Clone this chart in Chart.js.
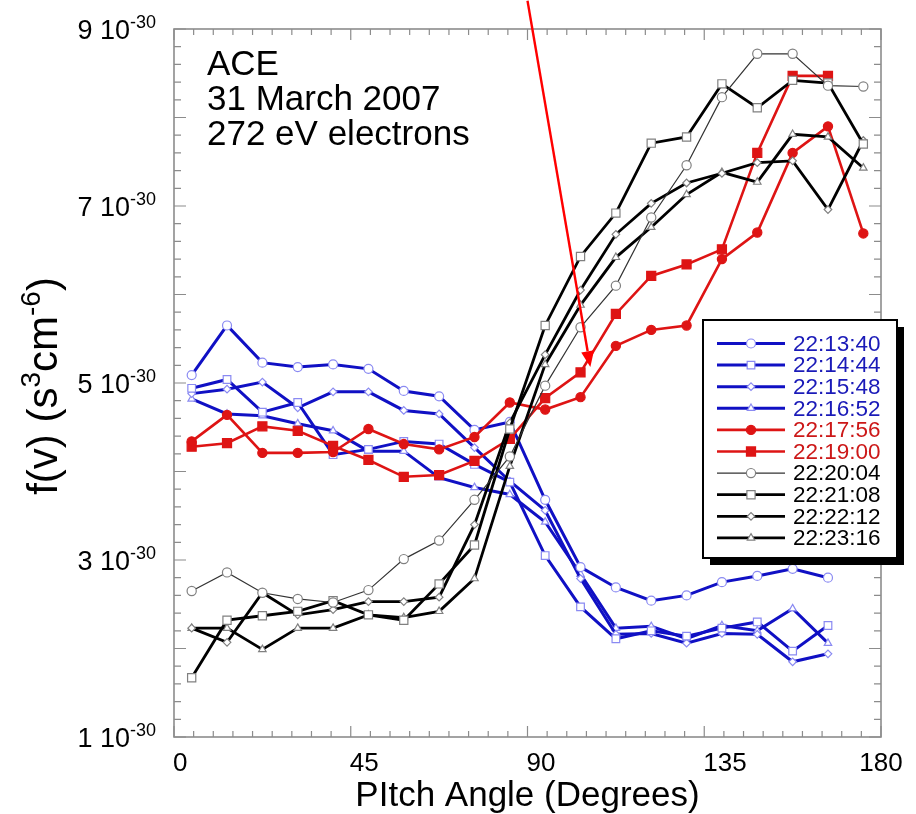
<!DOCTYPE html>
<html>
<head>
<meta charset="utf-8">
<title>ACE 272 eV pitch angle distributions</title>
<script src="https://cdn.jsdelivr.net/npm/chart.js@4.4.0/dist/chart.umd.min.js"></script>
<style>
  html, body { margin: 0; padding: 0; background: #fff; }
  #wrap { width: 916px; height: 814px; }
</style>
</head>
<body>
<div id="wrap"><canvas id="pitchChart" width="916" height="814"></canvas></div>
<script>
// pitch angle bin centres (degrees)
const angles = [4.5, 13.5, 22.5, 31.5, 40.5, 49.5, 58.5, 67.5, 76.5, 85.5,
                94.5, 103.5, 112.5, 121.5, 130.5, 139.5, 148.5, 157.5, 166.5, 175.5];

const times = ['22:13:40', '22:14:44', '22:15:48', '22:16:52', '22:17:56',
               '22:19:00', '22:20:04', '22:21:08', '22:22:12', '22:23:16'];

// f(v) in units of 1e-30 s^3 cm^-6
const fv_221340 = [5.09, 5.65, 5.23, 5.18, 5.21, 5.16, 4.91, 4.85, 4.47, 4.56, 3.68, 2.92, 2.69, 2.54, 2.60, 2.75, 2.82, 2.90, 2.80];
const fv_221444 = [4.94, 5.04, 4.67, 4.78, 4.19, 4.25, 4.34, 4.31, 4.08, 3.88, 3.05, 2.47, 2.11, 2.20, 2.14, 2.23, 2.30, 1.97, 2.26];
const fv_221548 = [4.88, 4.93, 5.01, 4.72, 4.90, 4.90, 4.69, 4.65, 4.27, 3.89, 3.56, 2.79, 2.16, 2.17, 2.06, 2.17, 2.16, 1.85, 1.94];
const fv_221652 = [4.82, 4.65, 4.63, 4.54, 4.46, 4.23, 4.23, 3.93, 3.82, 3.74, 3.43, 2.84, 2.23, 2.25, 2.11, 2.26, 2.20, 2.45, 2.06];
const fv_221756 = [4.34, 4.64, 4.21, 4.21, 4.22, 4.48, 4.31, 4.25, 4.39, 4.78, 4.70, 4.84, 5.42, 5.60, 5.65, 6.40, 6.70, 7.60, 7.90, 6.69];
const fv_221900 = [4.28, 4.32, 4.51, 4.46, 4.29, 4.13, 3.94, 3.96, 4.12, 4.37, 4.83, 5.12, 5.78, 6.21, 6.34, 6.51, 7.60, 8.47, 8.47];
const fv_222004 = [2.65, 2.86, 2.63, 2.56, 2.52, 2.66, 3.01, 3.22, 3.68, 4.17, 4.97, 5.63, 6.10, 6.87, 7.46, 8.23, 8.72, 8.72, 8.36, 8.35];
const fv_222108 = [1.67, 2.32, 2.37, 2.42, 2.54, 2.38, 2.32, 2.73, 3.17, 4.48, 5.65, 6.43, 6.92, 7.71, 7.78, 8.38, 8.11, 8.42, 8.39, 7.70];
const fv_222212 = [2.23, 2.07, 2.63, 2.38, 2.44, 2.53, 2.53, 2.58, 3.40, 4.55, 5.32, 6.05, 6.68, 7.03, 7.26, 7.37, 7.49, 7.51, 6.96, 7.74];
const fv_222316 = [2.23, 2.23, 1.99, 2.23, 2.23, 2.38, 2.35, 2.42, 2.79, 4.06, 5.21, 5.88, 6.42, 6.76, 7.13, 7.38, 7.27, 7.81, 7.78, 7.43];

const seriesValues = [fv_221340, fv_221444, fv_221548, fv_221652, fv_221756,
                      fv_221900, fv_222004, fv_222108, fv_222212, fv_222316];

const yTickValues = [1, 3, 5, 7, 9];
const xTickValues = [0, 45, 90, 135, 180];
const noteLines = ['ACE', '31 March 2007', '272 eV electrons'];
const arrowFrom = [90, 9.32];
const arrowTo = [106, 5.18];

// styling, kept apart from the data
const BLUE = '#1010c4', RED = '#de1414';
const styles = [
  { line: BLUE, width: 3, shape: 'circle', r: 4.5, edge: '#8a8af2', fill: '#fff', text: '#1a1ab8' },
  { line: BLUE, width: 3, shape: 'rect', r: 5.4, edge: '#8a8af2', fill: '#fff', text: '#1a1ab8' },
  { line: BLUE, width: 3, shape: 'rectRot', r: 3.8, edge: '#8a8af2', fill: '#fff', text: '#1a1ab8' },
  { line: BLUE, width: 3, shape: 'triangle', r: 4.3, edge: '#8a8af2', fill: '#fff', text: '#1a1ab8' },
  { line: RED, width: 2.6, shape: 'circle', r: 4.6, edge: RED, fill: RED, text: '#cc1818' },
  { line: RED, width: 2.6, shape: 'rect', r: 6.4, edge: RED, fill: RED, text: '#cc1818' },
  { line: '#333', width: 1.2, shape: 'circle', r: 4.6, edge: '#808080', fill: '#fff', text: '#000' },
  { line: '#000', width: 2.8, shape: 'rect', r: 5.8, edge: '#808080', fill: '#fff', text: '#000' },
  { line: '#000', width: 2.8, shape: 'rectRot', r: 3.8, edge: '#808080', fill: '#fff', text: '#000' },
  { line: '#000', width: 2.8, shape: 'triangle', r: 4.3, edge: '#808080', fill: '#fff', text: '#000' }
];

const FONT = '"Liberation Sans", Arial, Helvetica, sans-serif';

const datasets = seriesValues.map((vals, i) => {
  const s = styles[i];
  return {
    label: times[i],
    data: vals.map((v, k) => ({ x: angles[k], y: v })),
    borderColor: s.line,
    borderWidth: s.width,
    pointStyle: s.shape,
    pointRadius: s.r,
    pointBorderColor: s.edge,
    pointBackgroundColor: s.fill,
    pointBorderWidth: 1.2,
    tension: 0,
    fill: false,
    order: i < 4 ? 3 : (i < 6 ? 2 : 1)
  };
});

function drawMarker(ctx, shape, r, x, y, fill, edge) {
  ctx.beginPath();
  if (shape === 'circle') {
    ctx.arc(x, y, r, 0, Math.PI * 2);
  } else if (shape === 'rect') {
    const h = r * Math.SQRT1_2;
    ctx.rect(x - h, y - h, 2 * h, 2 * h);
  } else if (shape === 'rectRot') {
    ctx.moveTo(x - r, y); ctx.lineTo(x, y - r); ctx.lineTo(x + r, y); ctx.lineTo(x, y + r); ctx.closePath();
  } else {
    let a = 0;
    ctx.moveTo(x + Math.sin(a) * r, y - Math.cos(a) * r);
    a += 2 * Math.PI / 3;
    ctx.lineTo(x + Math.sin(a) * r, y - Math.cos(a) * r);
    a += 2 * Math.PI / 3;
    ctx.lineTo(x + Math.sin(a) * r, y - Math.cos(a) * r);
    ctx.closePath();
  }
  ctx.fillStyle = fill; ctx.fill();
  ctx.lineWidth = 1.2; ctx.strokeStyle = edge; ctx.stroke();
}

// box, inward ticks, labels, legend, annotation
const framePlugin = {
  id: 'frame',
  beforeDatasetsDraw(chart) {
    const { ctx, chartArea: a, scales: { x, y } } = chart;
    ctx.save();
    ctx.strokeStyle = '#8c8c8c';
    ctx.lineWidth = 1.6;
    ctx.strokeRect(a.left, a.top, a.right - a.left, a.bottom - a.top);
    ctx.lineWidth = 1.2;
    ctx.beginPath();
    for (let d = 0; d <= 180; d += 5) {
      const px = x.getPixelForValue(d);
      const len = d % 45 === 0 ? 11 : 6;
      ctx.moveTo(px, a.bottom); ctx.lineTo(px, a.bottom - len);
      ctx.moveTo(px, a.top); ctx.lineTo(px, a.top + len);
    }
    for (let i = 0; i <= 40; i++) {
      const py = y.getPixelForValue(1 + i * 0.2);
      const len = i % 5 === 0 ? 12 : 7;
      ctx.moveTo(a.left, py); ctx.lineTo(a.left + len, py);
      ctx.moveTo(a.right, py); ctx.lineTo(a.right - len, py);
    }
    ctx.stroke();
    ctx.restore();
  },
  afterDatasetsDraw(chart) {
    const { ctx, scales: { x, y } } = chart;
    // red arrow
    const x0 = x.getPixelForValue(arrowFrom[0]), y0 = y.getPixelForValue(arrowFrom[1]);
    const x1 = x.getPixelForValue(arrowTo[0]), y1 = y.getPixelForValue(arrowTo[1]);
    const ang = Math.atan2(y1 - y0, x1 - x0);
    const headLen = 16, headW = 6.5;
    const bx = x1 - Math.cos(ang) * headLen, by = y1 - Math.sin(ang) * headLen;
    ctx.save();
    ctx.strokeStyle = '#ff0000'; ctx.fillStyle = '#ff0000'; ctx.lineWidth = 2.4;
    ctx.beginPath(); ctx.moveTo(x0, y0); ctx.lineTo(bx, by); ctx.stroke();
    ctx.beginPath();
    ctx.moveTo(x1, y1);
    ctx.lineTo(bx + Math.sin(ang) * headW, by - Math.cos(ang) * headW);
    ctx.lineTo(bx - Math.sin(ang) * headW, by + Math.cos(ang) * headW);
    ctx.closePath(); ctx.fill();
    ctx.restore();
  },
  afterDraw(chart) {
    const { ctx, chartArea: a, scales: { x, y } } = chart;
    ctx.save();
    ctx.fillStyle = '#000';
    ctx.textBaseline = 'alphabetic';

    // x tick labels: drawn starting at the tick, the last one centred
    ctx.font = '26px ' + FONT;
    xTickValues.forEach((v, i) => {
      const px = x.getPixelForValue(v);
      const w = ctx.measureText(String(v)).width;
      const last = i === xTickValues.length - 1;
      ctx.textAlign = 'center';
      ctx.fillText(String(v), last ? px : px + w / 2 - 1, a.bottom + 34);
    });

    // y tick labels with exponent
    yTickValues.forEach(v => {
      const py = y.getPixelForValue(v);
      ctx.font = '18px ' + FONT;
      const expW = ctx.measureText('-30').width;
      ctx.textAlign = 'left';
      ctx.fillText('-30', 156 - expW, py - 1);
      ctx.font = '27px ' + FONT;
      ctx.textAlign = 'right';
      ctx.fillText(v + ' 10', 156 - expW, py + 9.5);
    });

    // axis titles
    ctx.font = '35px ' + FONT;
    ctx.textAlign = 'center';
    ctx.fillText('PItch Angle (Degrees)', (a.left + a.right) / 2, 806);

    const parts = [['f(v) (s', 42, 0], ['3', 28, -17], ['cm', 42, 0], ['-6', 28, -17], [')', 42, 0]];
    let total = 0;
    parts.forEach(p => { ctx.font = p[1] + 'px ' + FONT; total += ctx.measureText(p[0]).width; });
    ctx.translate(57, 386);
    ctx.rotate(-Math.PI / 2);
    ctx.textAlign = 'left';
    let cx = -total / 2;
    parts.forEach(p => {
      ctx.font = p[1] + 'px ' + FONT;
      ctx.fillText(p[0], cx, p[2]);
      cx += ctx.measureText(p[0]).width;
    });
    ctx.setTransform(1, 0, 0, 1, 0, 0);

    // annotation text
    ctx.font = '35px ' + FONT;
    ctx.textAlign = 'left';
    noteLines.forEach((t, i) => ctx.fillText(t, 207, 75 + i * 35));

    // legend box with drop shadow
    const bx = 703, by = 320, bw = 194, bh = 238;
    ctx.fillStyle = '#000';
    ctx.fillRect(bx + 7, by + 7, bw, bh);
    ctx.fillStyle = '#fff';
    ctx.fillRect(bx, by, bw, bh);
    ctx.strokeStyle = '#000'; ctx.lineWidth = 2;
    ctx.strokeRect(bx, by, bw, bh);
    ctx.font = '22.5px ' + FONT;
    ctx.textBaseline = 'middle';
    times.forEach((t, i) => {
      const s = styles[i];
      const ry = 343.5 + i * 21.6;
      ctx.strokeStyle = s.line; ctx.lineWidth = s.width;
      ctx.beginPath(); ctx.moveTo(717, ry); ctx.lineTo(785, ry); ctx.stroke();
      drawMarker(ctx, s.shape, s.r, 751, ry, s.fill, s.edge);
      ctx.fillStyle = s.text;
      ctx.fillText(t, 793, ry + 1);
    });
    ctx.restore();
  }
};

new Chart(document.getElementById('pitchChart').getContext('2d'), {
  type: 'line',
  data: { datasets: datasets },
  options: {
    responsive: false,
    animation: false,
    layout: { padding: { left: 0, right: 35, top: 29, bottom: 0 } },
    plugins: { legend: { display: false }, tooltip: { enabled: false } },
    scales: {
      x: {
        type: 'linear', min: 0, max: 180,
        grid: { display: false, drawTicks: false },
        border: { display: false },
        ticks: { display: false, stepSize: 45 },
        afterFit: (scale) => { scale.height = 77; }
      },
      y: {
        type: 'linear', min: 1, max: 9,
        grid: { display: false, drawTicks: false },
        border: { display: false },
        ticks: { display: false, stepSize: 2 },
        afterFit: (scale) => { scale.width = 174; }
      }
    }
  },
  plugins: [framePlugin]
});
</script>
</body>
</html>
